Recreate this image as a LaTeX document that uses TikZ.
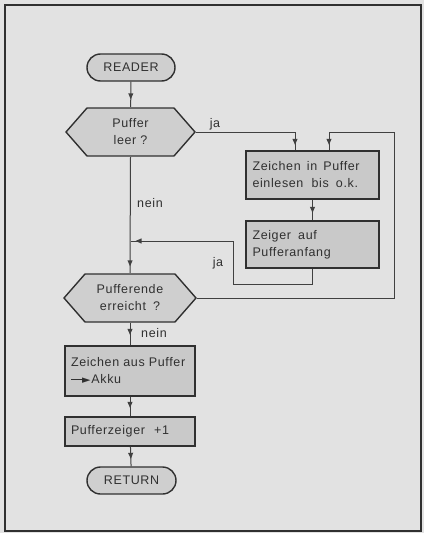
\documentclass[tikz,border=0pt]{standalone}
\usepackage{fontspec}
\setmainfont{Liberation Sans}[LetterSpace=5]
\newfontfamily\symfont{DejaVu Sans}
\usetikzlibrary{shapes.misc,decorations.markings,arrows.meta}
\definecolor{bgc}{HTML}{E2E2E2}
\definecolor{boxc}{HTML}{C9C9C9}
\definecolor{hexc}{HTML}{CFCFCF}
\definecolor{linec}{HTML}{303030}
\definecolor{conc}{HTML}{404040}
\tikzset{
  txt/.style={font=\fontsize{12.5}{17}\selectfont, text=linec},
  term/.style={txt, rounded rectangle, draw=linec, line width=1.4pt, fill=hexc, inner sep=0pt},
  procbox/.style={txt, rectangle, draw=linec, line width=1.4pt, fill=boxc, inner sep=0pt, align=left, text width=#1},
  hexa/.style={txt, rectangle, fill=bgc, inner sep=0pt, align=center,
    path picture={
      \path[draw=linec, line width=1.4pt, fill=hexc, line join=miter]
       ([xshift=1pt]path picture bounding box.west) --
       ([xshift=22pt,yshift=-1pt]path picture bounding box.north west) --
       ([xshift=-22pt,yshift=-1pt]path picture bounding box.north east) --
       ([xshift=-1pt]path picture bounding box.east) --
       ([xshift=-22pt,yshift=1pt]path picture bounding box.south east) --
       ([xshift=22pt,yshift=1pt]path picture bounding box.south west) -- cycle;}},
  lbl/.style={txt, inner sep=0pt},
  con/.style={draw=conc, line width=1pt, postaction={decorate},
    decoration={markings, mark=at position -#1 with {\fill[conc] (0.5pt,0) -- (-5.5pt,2.6pt) -- (-5.5pt,-2.6pt) -- cycle;}}},
  con/.default=4pt
}
\begin{document}
\begin{tikzpicture}[x=1pt,y=-1pt]
\useasboundingbox (0,0) rectangle (424,533);
\fill[bgc] (0,0) rectangle (424,533);
\draw[linec, line width=1.4pt] (421,5) -- (5,5) -- (5,531) -- (421,531) -- cycle;
\draw[linec, line width=2.2pt] (5,5) -- (5,531);

% nodes
\node[term, minimum width=88pt, minimum height=27pt] (reader) at (131,67.5) {READER};
\node[hexa, minimum width=131pt, minimum height=50pt] (h1) at (130.5,132) {Puffer\\leer ?};
\node[procbox=120pt, minimum width=133pt, minimum height=48pt] (b1) at (312.5,175) {Zeichen\hspace{2pt} in\hspace{2pt} Puffer\\einlesen\hspace{4pt} bis\hspace{3pt} o.k.};
\node[procbox=120pt, minimum width=133pt, minimum height=47pt] (b2) at (312.5,244.5) {Zeiger\hspace{3pt} auf\\Pufferanfang};
\node[hexa, minimum width=134pt, minimum height=50pt] (h2) at (130,298) {Pufferende\\erreicht\hspace{3pt} ?};
\node[procbox=118pt, minimum width=130pt, minimum height=50pt] (b3) at (130,371) {Zeichen aus Puffer\\\rule[3.8pt]{13pt}{1.1pt}\kern-2pt{\symfont\fontsize{11}{11}\selectfont ►}\kern1pt Akku};
\node[procbox=118pt, minimum width=130pt, minimum height=29pt] (b4) at (130,431.5) {Pufferzeiger\hspace{5pt} +1};
\node[term, minimum width=89pt, minimum height=27pt] (ret) at (131.5,480.5) {RETURN};

% junction coordinate
\coordinate (j1) at (131,241);

% labels
\node[lbl] (ja1) at (215,124) {ja};
\node[lbl] (nein1) at (150,203) {nein};
\node[lbl] (ja2) at (218,263) {ja};
\node[lbl] (nein2) at (154,333) {nein};

% connectors
\path[con=8pt] (reader) -- (h1);
\path[con=6pt] (h1.east) -| ([xshift=-17.5pt]b1.north);
\path[con=8pt] (b1) -- (b2);
\path[con=5pt] (b2.south) -- ++(0,16) -| (233,241) -- (j1);
\path[con=7pt] (h1.south) -- (h2.north);
\path[con=6pt] (h2.east) -| (394,132) -| ([xshift=16.5pt]b1.north);
\path[con=11pt] (h2) -- (b3);
\path[con=9pt] (b3) -- (b4);
\path[con=8pt] (b4) -- (ret);
\end{tikzpicture}
\end{document}
